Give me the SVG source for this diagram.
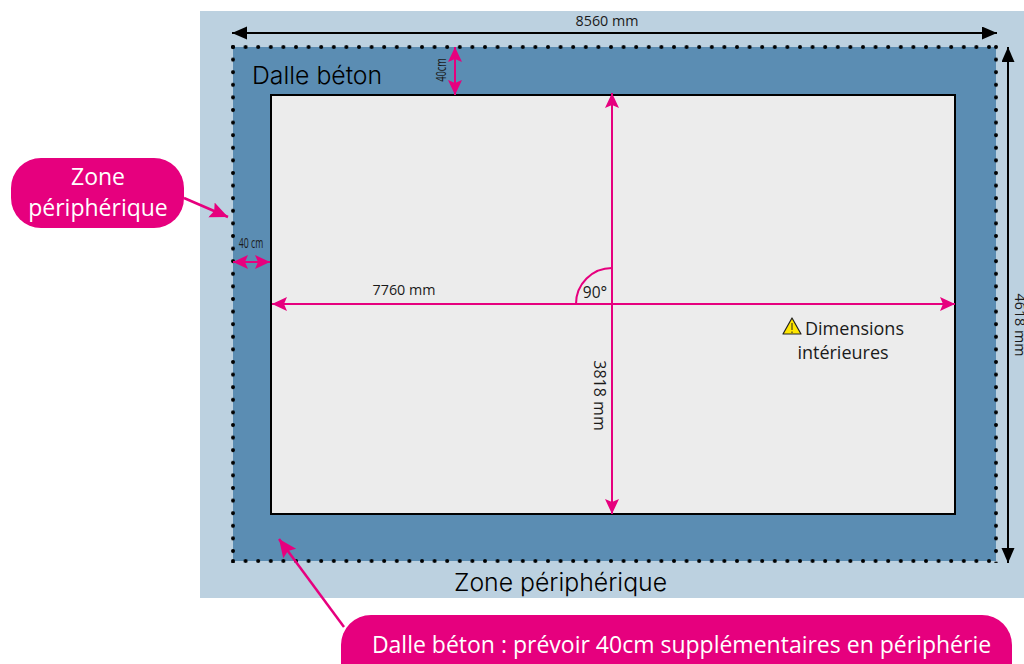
<svg xmlns="http://www.w3.org/2000/svg" width="1024" height="664" viewBox="0 0 1024 664">
<style>
text{font-family:"Open Sans","Noto Sans","Liberation Sans",sans-serif;fill:#1a1a1a}
.pk{fill:none;stroke:#e6007e;stroke-width:2}
.pc{fill:none;stroke:#e6007e;stroke-width:2.5}
.bk{fill:none;stroke:#000;stroke-width:2}
.ttl{font-family:"Inter","Liberation Sans",sans-serif;font-size:24.8px;font-weight:300;fill:#000}
.call{fill:#fff;font-size:23px}
.dim{font-size:14.300px}
</style>
<defs>
<pattern id="dh" patternUnits="userSpaceOnUse" x="231" y="45" width="12.6" height="518"><circle cx="2" cy="2" r="2"/><circle cx="2" cy="516" r="2"/></pattern>
<pattern id="dv" patternUnits="userSpaceOnUse" x="231" y="45" width="770" height="12.6"><circle cx="2" cy="2" r="2"/><circle cx="765" cy="2" r="2"/></pattern>
<marker id="pe" markerUnits="userSpaceOnUse" markerWidth="16" markerHeight="14" refX="15" refY="7" orient="auto-start-reverse"><path d="M0 0L15 7L0 14L3 7Z" fill="#e6007e"/></marker>
<marker id="pb" markerUnits="userSpaceOnUse" markerWidth="20" markerHeight="18" refX="18" refY="8" orient="auto"><path d="M0 0L18 8L0 16L3 8Z" fill="#e6007e"/></marker>
<marker id="ke" markerUnits="userSpaceOnUse" markerWidth="16" markerHeight="14" refX="15" refY="6.5" orient="auto-start-reverse"><path d="M0 0L15 6.500L0 13Z" fill="#000"/></marker>
</defs>
<g id="site"><rect x="200" y="11" width="824" height="587" fill="#bcd1e0"/></g>
<g id="slab"><rect x="233" y="47" width="763" height="514" fill="#5b8db3"/>
<rect x="231" y="45" width="768" height="4" fill="url(#dh)"/>
<rect x="231" y="559" width="768" height="4" fill="url(#dh)"/>
<rect x="231" y="45" width="4" height="518" fill="url(#dv)"/>
<rect x="994" y="45" width="4" height="518" fill="url(#dv)"/>
<text class="ttl" x="252" y="84">Dalle béton</text></g>
<g id="interior"><rect x="271" y="95" width="684" height="419" fill="#ececec" stroke="#000" stroke-width="2"/></g>
<g id="connectors">
<path class="bk" d="M232 33H997" marker-start="url(#ke)" marker-end="url(#ke)"/>
<path class="bk" d="M1008 47V563" marker-start="url(#ke)" marker-end="url(#ke)"/>
<path class="pk" d="M455 47V95" marker-start="url(#pe)" marker-end="url(#pe)"/>
<path class="pk" d="M233 262H270" marker-start="url(#pe)" marker-end="url(#pe)"/>
<path class="pk" d="M272 304H955" marker-start="url(#pe)" marker-end="url(#pe)"/>
<path class="pk" d="M612 93V514" marker-start="url(#pe)" marker-end="url(#pe)"/>
<path class="pk" d="M576 304A36 36 0 0 1 612 268"/>
<path class="pc" d="M184 198L228 217" marker-end="url(#pb)"/>
<path class="pc" d="M344 627L279 539" marker-end="url(#pb)"/>
</g>
<g id="labels">
<text class="dim" x="607" y="26" text-anchor="middle">8560 mm</text>
<text class="dim" x="404" y="295" text-anchor="middle">7760 mm</text>
<text transform="translate(594,395.500) rotate(90)" text-anchor="middle" font-size="16">3818 mm</text>
<text class="dim" transform="translate(1014.500,325) rotate(90)" text-anchor="middle">4618 mm</text>
<text transform="translate(446,70) rotate(-90) scale(.62,1)" text-anchor="middle" font-size="15">40cm</text>
<text transform="translate(251,248) scale(.62,1)" text-anchor="middle" font-size="14">40 cm</text>
<text x="595" y="298" text-anchor="middle" font-size="15.500">90°</text>
<text x="805" y="335" font-size="18">Dimensions</text>
<text x="843" y="359" text-anchor="middle" font-size="18">intérieures</text>
<text class="ttl" x="560.500" y="591" text-anchor="middle">Zone périphérique</text>
</g>
<g id="warning"><path d="M783 334L792 318L801 334Z" fill="#ffe600" stroke="#222" stroke-width="1.200" stroke-linejoin="round"/><path d="M792 323V330M792 331.500V333" stroke="#222" stroke-width="1"/></g>
<g id="callout-zone"><rect x="11" y="158" width="173" height="70" rx="30" fill="#e6007e"/>
<text class="call" x="98" y="185" text-anchor="middle">Zone</text>
<text class="call" x="98" y="216" text-anchor="middle">périphérique</text></g>
<g id="callout-dalle"><rect x="341" y="615" width="671" height="80" rx="30" fill="#e6007e"/>
<text class="call" x="681.500" y="653" text-anchor="middle">Dalle béton : prévoir 40cm supplémentaires en périphérie</text></g>
</svg>
